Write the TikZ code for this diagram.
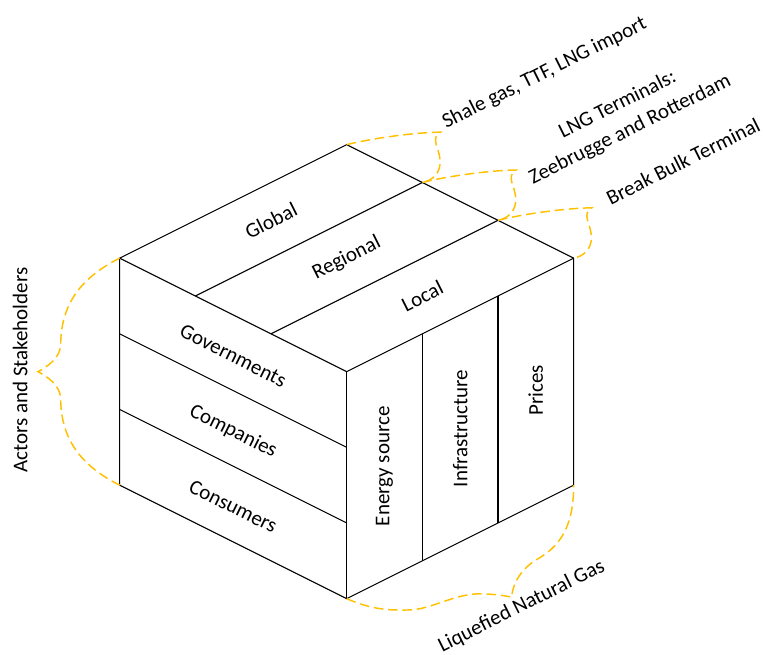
\documentclass[tikz,border=0pt]{standalone}
\usepackage{fontspec}
\setmainfont{Carlito}
\definecolor{braceyellow}{HTML}{FFC000}
\begin{document}
\begin{tikzpicture}[
    every node/.style={font=\fontsize{7.9}{10.5}\selectfont},
    gbrace/.style={draw=braceyellow, line width=0.55pt, dash pattern=on 3.6pt off 1.8pt},
    note/.style={inner sep=0pt, anchor=base west, rotate=26.57},
  ]
  \useasboundingbox (-4.582,-0.744) rectangle (5.502,7.912);
  % cube corners
  \coordinate (f0) at (0,0);
  \coordinate (l0) at (-3,1.5);
  \coordinate (r0) at (3,1.5);
  \coordinate (f1) at (0,3);
  \coordinate (l1) at (-3,4.5);
  \coordinate (r1) at (3,4.5);
  \coordinate (b1) at (0,6);
  % strip corners
  \coordinate (la) at (0,1);    \coordinate (lb) at (-3,2.5);
  \coordinate (lc) at (0,2);    \coordinate (ld) at (-3,3.5);
  \coordinate (ra) at (1,0.5);  \coordinate (rb) at (1,3.5);
  \coordinate (rc) at (2,1);    \coordinate (rd) at (2,4);
  \coordinate (ta) at (-1,3.5); \coordinate (tb) at (2,5);
  \coordinate (tc) at (-2,4);   \coordinate (td) at (1,5.5);

  \draw (f0) -- (l0) -- (l1) -- (b1) -- (r1) -- (r0) -- cycle;
  \draw (l1) -- (f1) -- (r1);
  \draw (f1) -- (f0);
  \begin{scope}[-]
    \draw (la) to (lb);
    \draw (lc) to (ld);
    \draw (ra) to (rb);
    \draw (rc) to (rd);
    \draw (ta) to (tb);
    \draw (tc) to (td);
  \end{scope}

  % top face
  \node[rotate=26.57] (global) at (-1,5) {Global};
  \node[rotate=26.57] (regional) at (0,4.5) {Regional};
  \node[rotate=26.57] (local) at (1,4) {Local};
  % left face
  \node[rotate=-26.57] (gov) at (-1.5,3.21) {Governments};
  \node[rotate=-26.57] (comp) at (-1.5,2.21) {Companies};
  \node[rotate=-26.57] (cons) at (-1.5,1.22) {Consumers};
  % right face
  \node[rotate=90] (energy) at (0.5,1.75) {Energy source};
  \node[rotate=90] (infra) at (1.5,2.25) {Infrastructure};
  \node[rotate=90] (prices) at (2.5,2.75) {Prices};

  % braces
  \draw[gbrace] (l1) .. controls (-3.5,4.25) and (-3.78,3.9) .. (-3.78,3.35)
    .. controls (-3.79,3.18) and (-3.95,3.07) .. (-4.08,3.0)
    .. controls (-3.95,2.93) and (-3.79,2.82) .. (-3.78,2.65)
    .. controls (-3.78,2.1) and (-3.5,1.75) .. (l0);
  \draw[gbrace] (f0) .. controls (0.3,-0.13) and (0.5,-0.155) .. (0.8,-0.15)
    .. controls (1.1,-0.155) and (1.4,0.06) .. (1.76,0.065)
    .. controls (1.95,0.06) and (2.1,0.04) .. (2.18,0.019)
    .. controls (2.2,0.25) and (2.35,0.43) .. (2.55,0.54)
    .. controls (2.85,0.72) and (3,1.0) .. (r0);
  \foreach \i in {0,1,2}
    \draw[gbrace, shift={(\i,-0.5*\i)}] (0,6) .. controls (0.35,6.09) and (0.95,6.165) .. (1.24,6.165)
      .. controls (1.10,6.08) and (1.225,5.96) .. (1.235,5.79)
      .. controls (1.245,5.62) and (1.12,5.52) .. (1,5.5);

  \node[rotate=90] (actors) at (-4.315,3.02) {Actors and Stakeholders};
  \node[note] (shale) at (1.31,6.21) {Shale gas, TTF, LNG import};
  \node[rotate=26.57, align=center] (lng) at (3.664,6.36) {LNG Terminals:\\Zeebrugge and Rotterdam};
  \node[note] (bulk) at (3.485,5.194) {Break Bulk Terminal};
  \node[note] (lngas) at (1.258,-0.71) {Liquefied Natural Gas};
\end{tikzpicture}
\end{document}
